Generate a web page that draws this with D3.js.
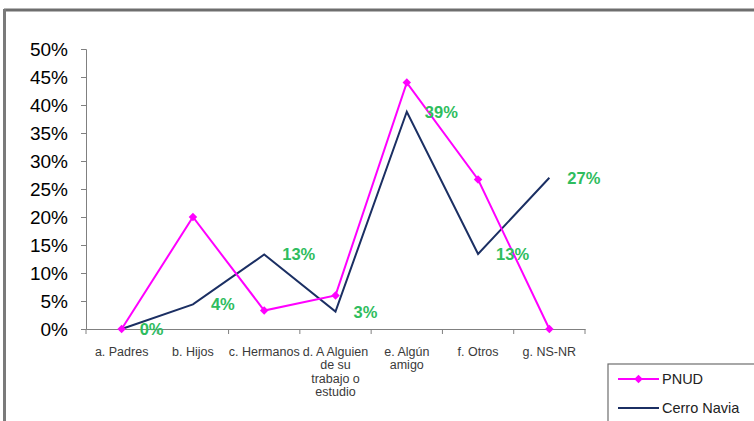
<!DOCTYPE html>
<html>
<head>
<meta charset="utf-8">
<script src="https://cdn.jsdelivr.net/npm/d3@7"></script>
<style>
  html, body { margin: 0; padding: 0; background: #fff; }
  svg { display: block; font-family: "Liberation Sans", Arial, sans-serif; }
</style>
</head>
<body>
<svg id="chart" width="754" height="421"></svg>
<script>
const categories = ["a. Padres", "b. Hijos", "c. Hermanos", "d. A Alguien de su trabajo o estudio", "e. Algún amigo", "f. Otros", "g. NS-NR"];
const categoryLines = [["a. Padres"], ["b. Hijos"], ["c. Hermanos"], ["d. A Alguien", "de su", "trabajo o", "estudio"], ["e. Algún", "amigo"], ["f. Otros"], ["g. NS-NR"]];
const pnud = [0, 0.20, 0.033, 0.06, 0.44, 0.267, 0];
const cerroNavia = [0, 0.044, 0.133, 0.031, 0.388, 0.134, 0.27];
const cerroLabels = ["0%", "4%", "13%", "3%", "39%", "13%", "27%"];
const yTicks = [0, 0.05, 0.10, 0.15, 0.20, 0.25, 0.30, 0.35, 0.40, 0.45, 0.50];
const seriesNames = ["PNUD", "Cerro Navia"];

const svg = d3.select("#chart");

// outer frame (top and left edges visible)
svg.append("line").attr("x1", 4).attr("x2", 754).attr("y1", 10).attr("y2", 10)
  .attr("stroke", "#6e6e6e").attr("stroke-width", 3);
svg.append("line").attr("x1", 4.5).attr("x2", 4.5).attr("y1", 9).attr("y2", 421)
  .attr("stroke", "#7a7a7a").attr("stroke-width", 3);

const x0 = 86, x1 = 585, yTop = 49, yBot = 329;
const x = d3.scaleBand().domain(categories).range([x0, x1]).padding(0);
const y = d3.scaleLinear().domain([0, 0.5]).range([yBot, yTop]);
const cx = d => x(d) + x.bandwidth() / 2;

// Y axis
const yAxis = svg.append("g").attr("transform", `translate(${x0},0)`)
  .call(d3.axisLeft(y).tickValues(yTicks).tickFormat(d3.format(".0%")).tickSize(5).tickPadding(13));
yAxis.select(".domain").attr("stroke", "#808080");
yAxis.selectAll(".tick line").attr("stroke", "#808080");
yAxis.selectAll(".tick text").attr("font-size", 19).attr("fill", "#000")
  .attr("font-family", "Liberation Sans, Arial, sans-serif");

// X axis
const xAxis = svg.append("g").attr("transform", `translate(0,${yBot})`)
  .call(d3.axisBottom(x).tickSize(0).tickFormat(""));
xAxis.select(".domain").attr("stroke", "#808080");
xAxis.selectAll(".tick").remove();
const boundaries = categories.map(c => x(c)).concat([x1]);
xAxis.selectAll("line.bt").data(boundaries).enter().append("line")
  .attr("class", "bt").attr("x1", d => d).attr("x2", d => d).attr("y1", 0).attr("y2", 5)
  .attr("stroke", "#808080");

// category labels
const catG = svg.append("g");
categories.forEach((c, i) => {
  const t = catG.append("text").attr("x", cx(c)).attr("y", 356)
    .attr("text-anchor", "middle").attr("font-size", 12.5).attr("fill", "#3a3a3a");
  categoryLines[i].forEach((ln, j) => {
    t.append("tspan").attr("x", cx(c)).attr("dy", j === 0 ? 0 : 13.4).text(ln);
  });
});

// lines
const line = d3.line().x((d, i) => cx(categories[i])).y(d => y(d));
svg.append("path").datum(cerroNavia).attr("d", line).attr("fill", "none")
  .attr("stroke", "#1b2f63").attr("stroke-width", 2);
svg.append("path").datum(pnud).attr("d", line).attr("fill", "none")
  .attr("stroke", "#ff00ff").attr("stroke-width", 2);

const diamond = d3.symbol().type(d3.symbolSquare).size(36);
svg.selectAll("path.mk").data(pnud).enter().append("path").attr("class", "mk")
  .attr("d", diamond)
  .attr("transform", (d, i) => `translate(${cx(categories[i])},${y(d)}) rotate(45)`)
  .attr("fill", "#ff00ff");

// data labels for Cerro Navia
svg.selectAll("text.dl").data(cerroNavia).enter().append("text").attr("class", "dl")
  .attr("x", (d, i) => cx(categories[i]) + 18)
  .attr("y", d => y(d))
  .attr("dy", "0.36em")
  .attr("font-size", 16.5).attr("font-weight", "bold").attr("fill", "#2fbd5e")
  .text((d, i) => cerroLabels[i]);

// legend
const lg = svg.append("g");
lg.append("rect").attr("x", 608).attr("y", 364).attr("width", 160).attr("height", 80)
  .attr("fill", "#fff").attr("stroke", "#6e6e6e").attr("stroke-width", 1.2);
lg.append("line").attr("x1", 618).attr("x2", 659).attr("y1", 379).attr("y2", 379)
  .attr("stroke", "#ff00ff").attr("stroke-width", 2);
lg.append("path").attr("d", diamond).attr("transform", "translate(638.5,379) rotate(45)").attr("fill", "#ff00ff");
lg.append("line").attr("x1", 618).attr("x2", 659).attr("y1", 408).attr("y2", 408)
  .attr("stroke", "#1b2f63").attr("stroke-width", 2);
lg.append("text").attr("x", 662).attr("y", 379).attr("dy", "0.36em").attr("font-size", 14.5)
  .attr("fill", "#222").text(seriesNames[0]);
lg.append("text").attr("x", 662).attr("y", 408).attr("dy", "0.36em").attr("font-size", 14.5)
  .attr("fill", "#222").text(seriesNames[1]);
</script>
</body>
</html>
